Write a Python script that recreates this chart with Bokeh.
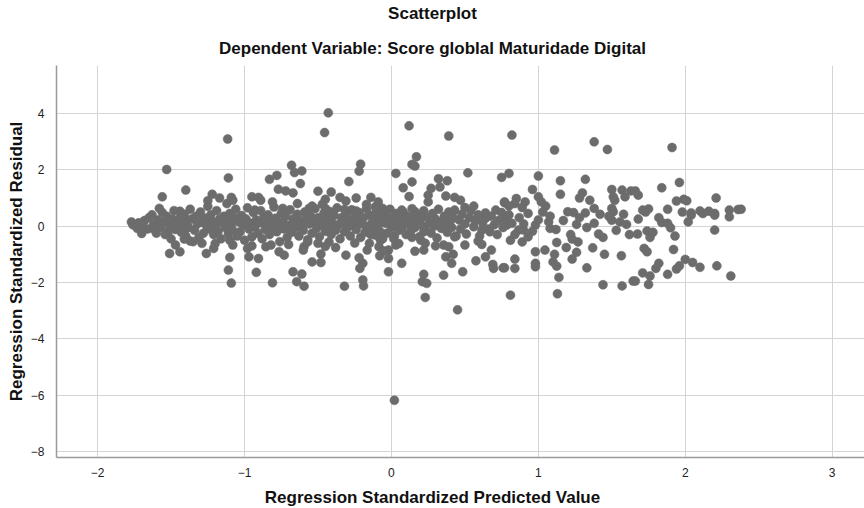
from bokeh.plotting import figure
from bokeh.models import Range1d, FixedTicker
from bokeh.layouts import column
from bokeh.core.properties import value
from bokeh.embed import file_html
from bokeh.resources import INLINE

# ---- data: points (predicted value, residual) ----
# points clearly standing out of the central band
outer_pred = [-1.115, -1.53, -1.11, -1.40, -1.56, -1.22, -1.25, -1.17, -1.09, -1.12, -1.08, -1.44, -1.58,
              -0.43, -0.455, -0.68, -0.21, -0.22, -0.61, -0.66, -0.78, -0.83, -0.62, -0.29, -0.77, -0.72,
              -0.67, -0.50, -0.41, -0.95, -0.905, -0.89, -0.81, -0.64, -0.45, -0.47, -0.35, -0.31, -0.24,
              -0.14, -0.17, -0.74, -0.93, -0.56, -0.54, -0.45, -0.32, -0.24,
              0.12, 0.39, 0.17, 0.14, 0.16, 0.03, 0.52, 0.75, 0.32, 0.38, 0.14, 0.08, 0.33, 0.27, 0.12,
              0.37, 0.25, 0.43, 0.47, 0.25, 0.56, 0.50, 0.77, -0.09, -0.06, -0.11, 0.07, 0.16, 0.43, 0.64, 0.71,
              0.82, 1.11, 1.38, 1.47, 0.80, 1.00, 1.15, 1.32, 1.15, 0.96, 1.00, 1.30, 1.28, 1.35, 1.50, 1.57,
              1.63, 1.51, 1.52, 1.59, 0.77, 0.85, 0.84, 0.91, 0.89, 0.80, 1.02, 1.05, 1.38, 1.20, 1.32, 1.50, 1.51,
              1.91, 1.96, 1.84, 1.68, 1.66, 2.21, 1.94, 1.99, 2.01, 1.71, 1.75, 1.88, 2.04, 2.10, 2.16, 2.20,
              2.30, 2.36, 2.38]
outer_resid = [3.09, 2.01, 1.71, 1.28, 1.04, 1.13, 0.90, 1.00, 1.02, 0.80, 0.92, 0.53, 0.63,
               4.02, 3.32, 2.16, 2.20, 1.95, 1.96, 1.90, 1.80, 1.66, 1.51, 1.58, 1.31, 1.25,
               1.18, 1.24, 1.21, 1.04, 1.02, 0.92, 0.86, 0.80, 0.95, 0.78, 1.02, 0.89, 1.00,
               1.02, 0.77, 0.63, 0.57, 0.63, 0.71, 0.63, 0.59, 0.54,
               3.56, 3.20, 2.46, 2.19, 2.13, 1.87, 1.89, 1.73, 1.68, 1.61, 1.57, 1.36, 1.39, 1.34, 1.05,
               1.07, 1.10, 1.02, 0.92, 0.86, 0.71, 0.66, 0.83, 0.86, 0.63, 0.68, 0.57, 0.51, 0.57, 0.47, 0.57,
               3.23, 2.70, 2.99, 2.72, 1.87, 1.78, 1.61, 1.66, 1.13, 1.30, 1.04, 1.18, 1.00, 0.92, 1.30, 1.28,
               1.25, 1.04, 0.92, 1.04, 0.86, 0.98, 0.80, 0.86, 0.66, 0.71, 0.86, 0.71, 0.63, 0.51, 0.47, 0.63, 0.51,
               2.79, 1.55, 1.36, 1.10, 1.25, 1.00, 0.89, 0.95, 0.90, 0.57, 0.61, 0.60, 0.47, 0.54, 0.53, 0.45,
               0.57, 0.59, 0.60]

# points below the central band
lower_pred = [-1.77, -1.73, -1.70, -1.61, -1.52, -1.40, -1.41, -1.37, -1.47, -1.51, -1.44, -1.29, -1.21,
              -1.26, -1.10, -1.11, -1.09, -1.08, -1.10,
              -0.92, -0.81, -0.67, -0.61, -0.645, -0.595, -0.54, -0.48, -0.48, -0.32, -0.195, -0.19, -0.215,
              -0.195, -0.22, -0.97, -0.905, -0.98, -0.765, -0.73, -0.855, -0.82, -0.38, -0.31, -0.425, -0.50,
              -0.595, -0.57, -0.165, -0.15,
              -0.08, -0.02, -0.02, -0.02, 0.07, 0.22, 0.21, 0.24, 0.23, 0.45, 0.355, 0.485, 0.37, 0.41, 0.42,
              0.355, 0.39, 0.16, 0.22, 0.14, 0.20, 0.23, 0.50, 0.575, 0.64, 0.68, 0.69, 0.695, 0.76, 0.59,
              0.615, -0.085, -0.075, -0.11, 0.03, 0.015, 0.615, 0.67, 0.22, 0.43, 0.02,
              0.81, 1.13, 1.14, 1.44, 1.57, 1.645, 1.33, 1.125, 1.10, 1.23, 1.26, 1.19, 1.27, 1.23, 1.11,
              1.125, 1.045, 0.98, 0.98, 0.98, 0.84, 0.84, 0.77, 1.37, 1.41, 1.45, 1.565, 1.26, 1.50, 1.555,
              1.60, 0.81, 0.89, 0.90, 0.93, 0.865, 0.785, 0.98, 1.07, 1.08,
              1.84, 1.90, 1.675, 1.74, 1.76, 1.72, 1.74, 1.92, 2.20, 2.04, 2.20, 2.30, 2.00, 2.05, 2.10,
              2.215, 2.31, 1.96, 1.94, 1.88, 1.82, 1.80, 1.76, 1.75, 1.71, 1.66]
lower_resid = [0.15, -0.08, -0.26, -0.14, -0.20, -0.08, -0.46, -0.53, -0.67, -0.97, -0.91, -0.61, -0.79,
               -0.97, -1.11, -1.56, -2.02, -0.67, -0.50,
               -1.64, -2.01, -1.62, -1.70, -1.97, -2.13, -1.27, -1.29, -0.99, -2.13, -1.91, -2.12, -1.50,
               -1.32, -1.12, -1.09, -1.15, -0.79, -0.91, -1.03, -0.73, -0.67, -0.76, -1.03, -0.56, -0.61,
               -0.73, -0.56, -0.85, -0.61,
               -1.05, -0.85, -1.15, -1.62, -1.32, -1.71, -1.97, -2.03, -2.53, -2.97, -1.74, -1.62, -1.09, -1.32, -1.00,
               -0.67, -0.73, -0.89, -0.85, -0.40, -0.50, -0.61, -0.67, -1.23, -1.09, -0.85, -1.36, -1.50, -1.48, -0.53,
               -0.65, -0.73, -0.50, -0.32, -0.67, -0.44, -0.14, -0.20, -0.20, -0.38, -6.18,
               -2.45, -2.40, -1.82, -2.08, -2.12, -1.95, -1.48, -1.42, -1.27, -1.17, -0.93, -0.76, -0.56, -0.46, -1.00,
               -0.58, -0.85, -0.91, -1.32, -1.44, -1.17, -1.50, -1.48, -0.77, -0.28, -1.00, -1.05, 0.06, 0.21, 0.15,
               0.06, -0.50, -0.56, -0.14, -0.38, -0.14, 0.04, 0.04, 0.15, -0.08,
               0.13, -0.06, -0.28, -0.17, -0.40, -0.79, -0.91, -0.83, -0.14, 0.39, 0.39, 0.33, -1.18, -1.29, -1.46,
               -1.41, -1.77, -1.41, -1.52, -1.71, -1.32, -1.50, -1.77, -2.07, -1.66, -1.95]

# points of the dense central band
core_pred = [-1.76, -1.72, -1.70, -1.68, -1.66, -1.65, -1.63, -1.62, -1.60, -1.59, -1.57, -1.56, -1.55,
             -1.54, -1.53, -1.51, -1.50, -1.49, -1.48, -1.47, -1.46, -1.44, -1.43, -1.42, -1.41, -1.40,
             -1.39, -1.38, -1.37, -1.36, -1.34, -1.33, -1.32, -1.31, -1.30, -1.29, -1.28, -1.27, -1.26,
             -1.25, -1.24, -1.23, -1.22, -1.21, -1.20, -1.19, -1.18, -1.17, -1.16, -1.15, -1.14, -1.13,
             -1.12, -1.11, -1.10, -1.09, -1.08, -1.07, -1.06, -1.05, -1.04, -1.03, -1.02, -1.01, -1.00,
             -0.99, -0.98, -0.97, -0.96, -0.95, -0.94, -0.93, -0.92, -0.91, -0.90, -0.89, -0.88, -0.87,
             -0.86, -0.85, -0.84, -0.83, -0.82, -0.81, -0.80, -0.79, -0.78, -0.77, -0.76, -0.75, -0.74,
             -0.73, -0.72, -0.71, -0.70, -0.69, -0.68, -0.67, -0.66, -0.65, -0.64, -0.63, -0.62, -0.61,
             -0.60, -0.59, -0.58, -0.57, -0.56, -0.55, -0.54, -0.53, -0.52, -0.51, -0.50, -0.49, -0.48,
             -0.47, -0.46, -0.45, -0.44, -0.43, -0.42, -0.41, -0.40, -0.39, -0.38, -0.37, -0.36, -0.35,
             -0.34, -0.33, -0.32, -0.31, -0.30, -0.29, -0.28, -0.27, -0.26, -0.25, -0.24, -0.23, -0.22,
             -0.21, -0.20, -0.19, -0.18, -0.17, -0.16, -0.15, -0.14, -0.13, -0.12, -0.11, -0.10, -0.09,
             -0.08, -0.07, -0.06, -0.05, -0.04, -0.03, -0.02, -0.01, 0.00, 0.01, 0.02, 0.03, 0.04, 0.05,
             0.06, 0.07, 0.08, 0.09, 0.10, 0.11, 0.12, 0.13, 0.14, 0.15, 0.16, 0.17, 0.18, 0.19, 0.20,
             0.21, 0.22, 0.23, 0.24, 0.26, 0.27, 0.28, 0.29, 0.30, 0.31, 0.32, 0.33, 0.34, 0.36, 0.37,
             0.38, 0.39, 0.40, 0.41, 0.42, 0.44, 0.46, 0.47, 0.48, 0.50, 0.51, 0.53, 0.54, 0.56, 0.57,
             0.59, 0.60, 0.62, 0.64, 0.66, 0.68, 0.70, 0.72, 0.73, 0.75, 0.76, 0.78, 0.80, 0.82, 0.84,
             0.87, 0.90, 0.93, 0.96, 1.00, 1.03, 1.08, 1.12, 1.17, 1.22, 1.24, 1.28, 1.33, 1.38, 1.42,
             1.44, 1.48, 1.53, 1.58, 1.62, 1.68, 1.73, 1.78, 1.82, 1.88, 1.93, 1.98, 2.02, 2.12,
             -1.20, -0.95, -0.70, -0.45, -0.25, 0.05, 0.30, -1.35, -0.60, -0.05]
core_resid = [0.05, 0.12, -0.05, 0.20, -0.10, 0.30, 0.40, 0.05, -0.25, 0.22, -0.05, 0.48, 0.15,
              -0.30, 0.35, 0.02, -0.45, 0.25, 0.55, -0.12, 0.10, 0.30, -0.22, 0.05, 0.42, -0.35,
              0.18, -0.05, 0.60, 0.25, -0.15, 0.35, 0.08, -0.40, 0.50, 0.15, -0.25, 0.28, 0.02,
              0.70, -0.10, 0.40, 0.18, -0.30, 0.05, 0.55, -0.18, 0.25, -0.45, 0.12, 0.35, -0.05,
              0.20, -0.28, 0.45, 0.02, -0.15, 0.30, 0.60, -0.35, 0.15, -0.20, 0.38, 0.05, -0.50,
              0.25, 0.65, -0.10, 0.10, -0.38, 0.48, -0.02, 0.22, -0.25, 0.12, 0.55, -0.45, 0.30,
              -0.12, 0.05, 0.40, -0.30, 0.18, -0.05, 0.68, 0.28, -0.20, 0.08, -0.55, 0.45, 0.15,
              -0.10, 0.35, -0.40, 0.02, 0.58, -0.22, 0.25, 0.10, -0.05, 0.42, -0.35, 0.18, 0.00,
              -0.15, 0.50, 0.28, -0.48, 0.08, 0.35, -0.25, 0.12, 0.62, -0.08, 0.30, -0.38, 0.20,
              0.04, 0.45, -0.18, 0.25, -0.02, 0.52, -0.30, 0.10, 0.38, -0.15, 0.65, 0.05, -0.45,
              0.30, 0.12, -0.20, 0.45, -0.05, 0.22, -0.35, 0.58, 0.02, 0.35, -0.12, 0.18, 0.48,
              -0.40, 0.08, 0.30, -0.22, 0.62, 0.00, 0.40, -0.30, 0.15, 0.35, -0.08, 0.52, 0.05,
              -0.18, 0.25, -0.45, 0.42, 0.10, -0.25, 0.30, 0.60, -0.05, 0.18, -0.35, 0.45, 0.02, -0.15,
              0.28, -0.08, 0.50, 0.12, -0.30, 0.35, 0.05, -0.20, 0.62, 0.22, -0.05, 0.40, 0.15, -0.38, 0.28,
              0.02, 0.55, -0.12, 0.32, 0.10, -0.25, 0.45, 0.00, 0.25, -0.42, 0.60, 0.15, -0.08, 0.35, 0.05,
              -0.22, 0.50, 0.18, -0.05, 0.30, -0.35, 0.22, -0.10, 0.42, 0.08, -0.28, 0.30, 0.55, -0.02, 0.20,
              0.40, -0.35, 0.12, 0.28, -0.10, 0.35, 0.05, -0.30, 0.20, 0.48, -0.05, 0.25, 0.40, 0.10, -0.30,
              0.30, 0.08, 0.45, -0.18, 0.22, 0.50, 0.35, -0.12, 0.20, -0.30, 0.48, 0.30, -0.05, 0.10, 0.42,
              -0.40, 0.35, -0.15, 0.42, -0.30, 0.25, 0.50, -0.22, 0.30, 0.10, -0.35, 0.50, 0.15, 0.45,
              -0.62, -0.70, -0.65, -0.72, -0.60, -0.62, -0.70, -0.55, -0.85, -0.88]

x_ticks = [-2, -1, 0, 1, 2, 3]
y_ticks = [-8, -6, -4, -2, 0, 2, 4]

title_lines = ["Scatterplot", "Dependent Variable: Score globlal Maturidade Digital"]
x_title = "Regression Standardized Predicted Value"
y_title = "Regression Standardized Residual"

pred = outer_pred + lower_pred + core_pred
resid = outer_resid + lower_resid + core_resid

FONT = "Liberation Sans"
W = 864
LEFT = 56


def text_strip(height):
    # same horizontal borders as the chart, so that data x equals pixels in the figure
    f = figure(width=W, height=height, output_backend="svg", toolbar_location=None,
               x_range=Range1d(LEFT, W), y_range=Range1d(0, height),
               x_axis_type=None, y_axis_type=None,
               min_border_left=LEFT, min_border_right=0,
               min_border_top=0, min_border_bottom=0)
    f.outline_line_color = None
    f.xgrid.visible = False
    f.ygrid.visible = False
    return f


# title strip: y 0..65
top = text_strip(65)
top.text(x=[432, 432], y=[65 - 13, 65 - 48], text=title_lines,
         text_align="center", text_baseline="middle", text_font=value(FONT),
         text_font_size="17px", text_font_style="bold", text_color="#111111")

# main chart: frame from x 56 to 864, y 65 to 457
p = figure(width=W, height=414, output_backend="svg", toolbar_location=None,
           x_range=Range1d(-2.28, 3.22), y_range=Range1d(-8.21, 5.70),
           min_border_left=LEFT, min_border_right=0, min_border_top=0, min_border_bottom=22)
p.outline_line_color = None
p.background_fill_color = "white"

for g in (p.xgrid[0], p.ygrid[0]):
    g.grid_line_color = "#d4d4d4"
    g.grid_line_width = 1
p.xaxis.ticker = FixedTicker(ticks=x_ticks)
p.yaxis.ticker = FixedTicker(ticks=y_ticks)
p.xgrid.ticker = FixedTicker(ticks=x_ticks)
p.ygrid.ticker = FixedTicker(ticks=y_ticks)

for ax in (p.xaxis[0], p.yaxis[0]):
    ax.axis_line_color = "#9a9a9a"
    ax.axis_line_width = 1.5
    ax.major_tick_line_color = None
    ax.minor_tick_line_color = None
    ax.major_label_text_font = FONT
    ax.major_label_text_font_size = "12px"
    ax.major_label_text_color = "#222222"
p.xaxis.major_label_standoff = 4
p.yaxis.major_label_standoff = 6

p.yaxis.axis_label = y_title
p.yaxis.axis_label_text_font = FONT
p.yaxis.axis_label_text_font_size = "17px"
p.yaxis.axis_label_text_font_style = "bold"
p.yaxis.axis_label_text_color = "#111111"
p.yaxis.axis_label_standoff = 2

p.scatter(pred, resid, size=9, fill_color="#6c6c6c", line_color="#6c6c6c", line_width=0.5)

# x axis title strip: y 479..508
bottom = text_strip(29)
bottom.text(x=[432], y=[29 - 18], text=[x_title],
            text_align="center", text_baseline="middle", text_font=value(FONT),
            text_font_size="17px", text_font_style="bold", text_color="#111111")

layout = column(top, p, bottom, spacing=0)
open("out.html", "w").write(file_html(layout, INLINE))
